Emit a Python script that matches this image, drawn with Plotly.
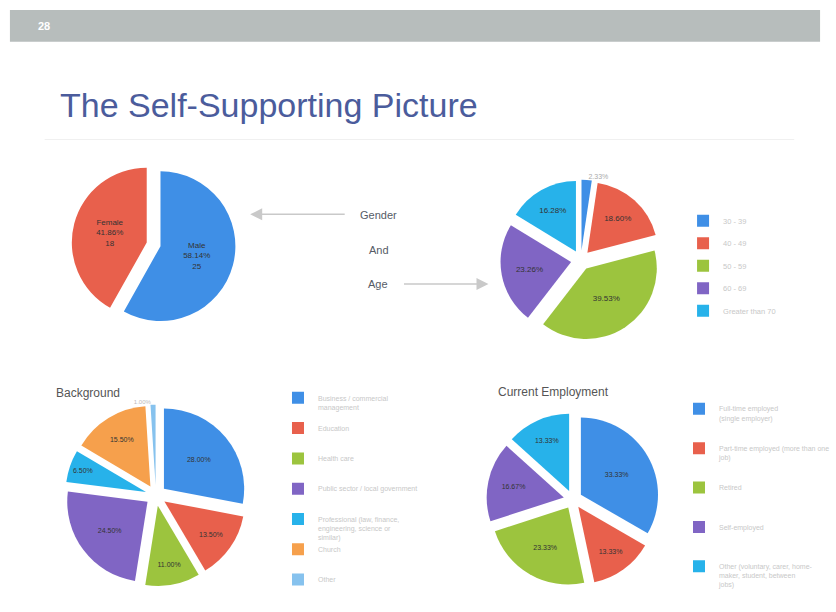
import plotly.graph_objects as go

W, H = 836, 612

# ---------------- data ----------------
gender_labels = ["Male", "Female"]
gender_values = [25, 18]

age_labels = ["30 - 39", "40 - 49", "50 - 59", "60 - 69", "Greater than 70"]
age_values = [1, 8, 17, 10, 7]

bg_labels = ["Business / commercial<br>management",
             "Education",
             "Health care",
             "Public sector / local government",
             "Professional (law, finance,<br>engineering, science or<br>similar)",
             "Church",
             "Other"]
bg_values = [28.0, 13.5, 11.0, 24.5, 6.5, 15.5, 1.0]

emp_labels = ["Full-time employed<br>(single employer)",
              "Part-time employed (more than one<br>job)",
              "Retired",
              "Self-employed",
              "Other (voluntary, carer, home-<br>maker, student, between<br>jobs)"]
emp_values = [10, 4, 7, 5, 4]

# ---------------- styles ----------------
BLUE = "#3f8fe6"
RED = "#e8604c"
GREEN = "#9cc43e"
PURPLE = "#8065c4"
CYAN = "#27b2ea"
ORANGE = "#f6a04c"
LBLUE = "#86c2ee"


def px(x0, x1):
    return [x0 / W, x1 / W]


def py(y0, y1):
    return [1 - y1 / H, 1 - y0 / H]


def pad(labels, lines):
    # pad legend entries to a fixed number of text lines (legend spacing)
    out = []
    for lab in labels:
        n = lab.count("<br>") + 1
        out.append(lab + "<br> " * max(0, lines - n))
    return out


fig = go.Figure()

fig.add_trace(go.Pie(
    labels=gender_labels, values=gender_values, sort=False,
    direction="clockwise", rotation=0,
    marker=dict(colors=[BLUE, RED]),
    pull=[0.05, 0.14],
    texttemplate="%{label}<br>%{percent:.2%}<br>%{value}",
    textposition="inside", insidetextorientation="horizontal",
    textfont=dict(size=8, color="#333333"),
    domain=dict(x=px(72, 244), y=py(160, 332)),
    showlegend=False, hoverinfo="label+percent"))

fig.add_trace(go.Pie(
    labels=pad(age_labels, 2), values=age_values, sort=False,
    direction="clockwise", rotation=0,
    marker=dict(colors=[BLUE, RED, GREEN, PURPLE, CYAN]),
    pull=[0.14] * 5,
    texttemplate="%{percent:.2%}",
    textposition=["outside", "inside", "inside", "inside", "inside"],
    insidetextorientation="horizontal",
    textfont=dict(size=8, color="#333333"),
    outsidetextfont=dict(size=7, color="#aaaaaa"),
    domain=dict(x=px(504, 666), y=py(178, 344)),
    legend="legend", showlegend=True))

fig.add_trace(go.Pie(
    labels=pad(bg_labels, 3), values=bg_values, sort=False,
    direction="clockwise", rotation=0,
    marker=dict(colors=[BLUE, RED, GREEN, PURPLE, CYAN, ORANGE, LBLUE]),
    pull=[0.13] * 7,
    texttemplate="%{percent:.2%}",
    textposition=["inside"] * 6 + ["outside"],
    insidetextorientation="horizontal",
    textfont=dict(size=7, color="#333333"),
    outsidetextfont=dict(size=6, color="#bbbbbb"),
    domain=dict(x=px(62, 252), y=py(406, 588)),
    legend="legend2", showlegend=True))

fig.add_trace(go.Pie(
    labels=pad(emp_labels, 4), values=emp_values, sort=False,
    direction="clockwise", rotation=0,
    marker=dict(colors=[BLUE, RED, GREEN, PURPLE, CYAN]),
    pull=[0.12] * 5,
    texttemplate="%{percent:.2%}",
    textposition="inside", insidetextorientation="horizontal",
    textfont=dict(size=7, color="#333333"),
    domain=dict(x=px(490, 664), y=py(408, 594)),
    legend="legend3", showlegend=True))

LEG_FONT = dict(size=7, color="#c8c8c8", family="Liberation Sans, Arial")

fig.update_layout(
    width=W, height=H,
    margin=dict(l=0, r=0, t=0, b=0),
    paper_bgcolor="white", plot_bgcolor="white",
    font=dict(family="Liberation Sans, Arial"),
    legend=dict(x=688 / W, y=1 - 210 / H, xanchor="left", yanchor="top",
                font=dict(size=7.5, color="#c8c8c8", family="Liberation Sans, Arial"),
                bgcolor="rgba(0,0,0,0)", valign="top", itemwidth=30),
    legend2=dict(x=280 / W, y=1 - 388 / H, xanchor="left", yanchor="top",
                 font=LEG_FONT, bgcolor="rgba(0,0,0,0)", valign="top",
                 itemwidth=30),
    legend3=dict(x=684 / W, y=1 - 399 / H, xanchor="left", yanchor="top",
                 font=LEG_FONT, bgcolor="rgba(0,0,0,0)", valign="top",
                 itemwidth=30),
    shapes=[
        dict(type="rect", xref="paper", yref="paper",
             x0=10 / W, x1=826 / W, y0=1 - 42 / H, y1=1 - 10 / H,
             fillcolor="#b7bdbc", line=dict(width=0)),
        dict(type="line", xref="paper", yref="paper",
             x0=45 / W, x1=800 / W, y0=1 - 140 / H, y1=1 - 140 / H,
             line=dict(color="#f0f0f0", width=1)),
    ],
    annotations=[
        dict(text="<b>28</b>", x=36 / W, y=1 - 26 / H, xref="paper", yref="paper",
             xanchor="left", yanchor="middle", showarrow=False,
             font=dict(size=11, color="white")),
        dict(text="The Self-Supporting Picture", x=58 / W, y=1 - 105 / H,
             xref="paper", yref="paper", xanchor="left", yanchor="middle",
             showarrow=False,
             font=dict(size=34, color="#4b5c9c", family="Liberation Sans, Arial")),
        dict(text="Gender", x=381 / W, y=1 - 216 / H, xref="paper", yref="paper",
             showarrow=False, font=dict(size=11, color="#555b66")),
        dict(text="And", x=382 / W, y=1 - 251 / H, xref="paper", yref="paper",
             showarrow=False, font=dict(size=11, color="#555b66")),
        dict(text="Age", x=381 / W, y=1 - 285 / H, xref="paper", yref="paper",
             showarrow=False, font=dict(size=11, color="#555b66")),
        dict(text="", x=252 / W, y=1 - 215 / H, xref="paper", yref="paper",
             showarrow=True, ax=96, ay=0, arrowhead=2, arrowsize=1.6,
             arrowwidth=1.5, arrowcolor="#c9c9c9"),
        dict(text="", x=492 / W, y=1 - 285 / H, xref="paper", yref="paper",
             showarrow=True, ax=-86, ay=0, arrowhead=2, arrowsize=1.6,
             arrowwidth=1.5, arrowcolor="#c9c9c9"),
        dict(text="Background", x=54 / W, y=1 - 394 / H, xref="paper", yref="paper",
             xanchor="left", yanchor="middle", showarrow=False,
             font=dict(size=12, color="#555555")),
        dict(text="Current Employment", x=500 / W, y=1 - 393 / H, xref="paper",
             yref="paper", xanchor="left", yanchor="middle", showarrow=False,
             font=dict(size=12, color="#555555")),
    ],
)

fig.write_html("out.html",
               config={"displayModeBar": False},
               post_script="document.body.style.margin='0';"
                           "document.body.style.overflow='hidden';")
